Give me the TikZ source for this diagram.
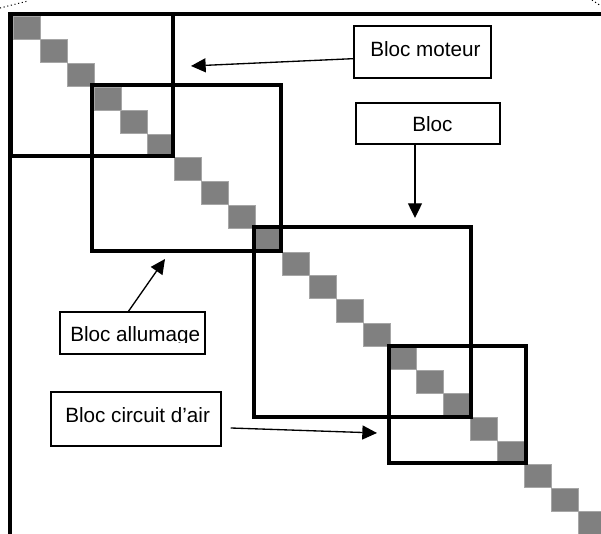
\documentclass[tikz,border=0pt]{standalone}
\usepackage{fontspec}
\setmainfont{Liberation Sans}
\usetikzlibrary{arrows.meta,positioning,fit,calc}
\definecolor{cellgray}{RGB}{128,128,128}
\tikzset{
    blk/.style = {draw, rectangle, line width=3pt, inner sep=0pt},
    txtbox/.style = {draw, rectangle, line width=1.1pt, inner sep=0pt},
    txt/.style = {anchor=base west, inner sep=0pt, font=\fontsize{15.5}{18}\selectfont},
    arrow/.style = {draw, line width=1pt, -{Triangle[length=11pt,width=10.5pt]}},
    cell/.style = {fill=cellgray, draw=cellgray!70, line width=0.3pt}
}

\begin{document}
\begin{tikzpicture}[x=0.75pt, y=-0.75pt]
    \useasboundingbox (0,0) rectangle (601,534);
    % diagonal cells
    \foreach \i in {0,...,21}
        \path[cell] ({13+26.9*\i},{16+23.6*\i}) rectangle ++(27,23);
    % blocks
    \node [blk, fit={(11,14) (173,156)}] (moteur) {};
    \node [blk, fit={(92,85) (281,251)}] (allum) {};
    \node [blk, fit={(254,227) (471,417)}] (bloc) {};
    \node [blk, fit={(389,346) (526,463)}] (air) {};
    % frame
    \draw [line width=3.5pt] (601,14) -- (10,14) -- (10,534);
    \draw [dotted, line width=0.8pt] (0,8) -- (28,1);
    \draw [dotted, line width=0.8pt] (592,0) -- (601,6);
    % labels
    \node [txtbox, fit={(354,26) (491,78)}] (lmoteur) {};
    \node [txt] (tmot) at (370,57) {Bloc moteur};
    \node [txtbox, fit={(356,103) (500,144)}] (lbloc) {};
    \node [txt] (tblc) at (412,132) {Bloc};
    \node [txtbox, fit={(60,312) (205,354)}] (lallum) {};
    \begin{scope}
        \clip (60,312) rectangle (205,343);
        \node [txt] (tallum) at (70,342) {Bloc allumage};
    \end{scope}
    \node [txtbox, fit={(51,392) (221,446)}] (lair) {};
    \node [txt] (tair) at (65,423) {Bloc circuit d’air};
    % arrows
    \coordinate (pmoteur) at (191,66);
    \coordinate (pbloc) at (415,218);
    \coordinate (pall) at (165,259);
    \coordinate (pair) at (377,433);
    \draw [arrow] ([yshift=-5]lmoteur.west) -- (pmoteur);
    \draw [arrow] (lbloc.south -| pbloc) -- (pbloc);
    \draw [arrow] ([xshift=-3]lallum.north) -- (pall);
    \draw [arrow] ([shift={(9,9)}]lair.east) -- (pair);
\end{tikzpicture}
\end{document}
